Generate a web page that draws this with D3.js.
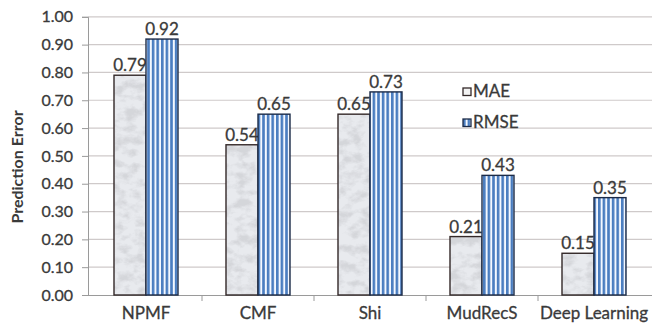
<!DOCTYPE html>
<html>
<head>
<meta charset="utf-8">
<script src="https://cdn.jsdelivr.net/npm/d3@7"></script>
<style>
  html, body { margin: 0; padding: 0; background: #fff; }
  svg { display: block; }
  text { font-family: Lato, "Open Sans", sans-serif; fill: #3a3a3a; }
</style>
</head>
<body>
<svg id="chart" width="652" height="323"></svg>
<script>
const categories = ["NPMF", "CMF", "Shi", "MudRecS", "Deep Learning"];
const seriesNames = ["MAE", "RMSE"];
const maeValues = [0.79, 0.54, 0.65, 0.21, 0.15];
const rmseValues = [0.92, 0.65, 0.73, 0.43, 0.35];
const yTicks = [0, 0.1, 0.2, 0.3, 0.4, 0.5, 0.6, 0.7, 0.8, 0.9, 1.0];

const svg = d3.select("#chart");
const defs = svg.append("defs");

// Grey marble fill for MAE bars
const marble = defs.append("filter").attr("id", "marble")
  .attr("filterUnits", "userSpaceOnUse")
  .attr("x", 0).attr("y", 0).attr("width", 652).attr("height", 323);
marble.append("feTurbulence").attr("type", "fractalNoise")
  .attr("baseFrequency", "0.08 0.11").attr("numOctaves", 4).attr("seed", 11).attr("result", "n");
marble.append("feColorMatrix").attr("in", "n").attr("type", "matrix")
  .attr("values", "0 0 0 0 0.66  0 0 0 0 0.67  0 0 0 0 0.70  -3.0 0 0 0 1.8")
  .attr("result", "c");
marble.append("feFlood").attr("flood-color", "#e8eaee").attr("result", "bg");
marble.append("feComposite").attr("in", "c").attr("in2", "bg").attr("operator", "over");

const pat = defs.append("pattern").attr("id", "marblePat")
  .attr("patternUnits", "userSpaceOnUse").attr("width", 652).attr("height", 323);
pat.append("rect").attr("width", 652).attr("height", 323).attr("fill", "#fff").attr("filter", "url(#marble)");

// Vertical stripes for RMSE bars
const stripes = defs.append("pattern").attr("id", "stripes")
  .attr("patternUnits", "userSpaceOnUse").attr("width", 4.6).attr("height", 10);
stripes.append("rect").attr("width", 4.6).attr("height", 10).attr("fill", "#f4f8ff");
stripes.append("rect").attr("x", 0).attr("width", 2.6).attr("height", 10).attr("fill", "#4a7dc0");

const fills = ["url(#marblePat)", "url(#stripes)"];

const axisX = 88, plotRight = 652;
const x = d3.scaleBand().domain(categories).range([90, 650]).paddingInner(0).paddingOuter(0);
const y = d3.scaleLinear().domain([0, 1]).range([295, 16.8]);
const barW = 32;

// Gridlines
svg.append("g").selectAll("line").data(yTicks.slice(1)).join("line")
  .attr("x1", axisX).attr("x2", plotRight)
  .attr("y1", d => y(d)).attr("y2", d => y(d))
  .attr("stroke", "#cfcaca").attr("stroke-width", 1.2);

// Y axis
const yAxis = d3.axisLeft(y).tickValues(yTicks).tickFormat(d3.format(".2f")).tickSize(6).tickPadding(9);
const gy = svg.append("g").attr("transform", `translate(${axisX},0)`).call(yAxis);
gy.select(".domain").attr("stroke", "#9a9a9a");
gy.selectAll(".tick line").attr("stroke", "#9a9a9a");
gy.selectAll(".tick text").attr("font-size", 16).attr("font-family", "Lato, sans-serif")
  .attr("fill", "#3a3a3a").attr("stroke", "#3a3a3a").attr("stroke-width", 0.3);

// X axis
const xAxis = d3.axisBottom(x).tickSize(0).tickPadding(12);
const gx = svg.append("g").attr("transform", `translate(0,${y(0)})`).call(xAxis);
gx.select(".domain").attr("stroke", "#9a9a9a").attr("d", `M${axisX},0.5H${plotRight}`);
gx.selectAll(".tick text").attr("font-size", 17).attr("font-family", "Lato, sans-serif")
  .attr("fill", "#3a3a3a").attr("stroke", "#3a3a3a").attr("stroke-width", 0.3);
// Category boundary ticks
svg.append("g").selectAll("line").data(categories.slice(1)).join("line")
  .attr("x1", d => x(d)).attr("x2", d => x(d))
  .attr("y1", y(0)).attr("y2", y(0) + 6)
  .attr("stroke", "#9a9a9a");

// Bars
const series = [maeValues, rmseValues];
series.forEach((vals, si) => {
  const g = svg.append("g");
  const rows = categories.map((c, i) => ({ c, v: vals[i] }));
  g.selectAll("rect").data(rows).join("rect")
    .attr("x", d => x(d.c) + x.bandwidth() / 2 - barW + si * barW)
    .attr("y", d => y(d.v))
    .attr("width", barW)
    .attr("height", d => y(0) - y(d.v))
    .attr("fill", fills[si])
    .attr("stroke", si === 0 ? "#332828" : "#1c2b48")
    .attr("stroke-width", 1.4);
  g.selectAll("text").data(rows).join("text")
    .attr("x", d => x(d.c) + x.bandwidth() / 2 - barW / 2 + si * barW)
    .attr("y", d => y(d.v) - 4)
    .attr("text-anchor", "middle")
    .attr("font-size", 17)
    .attr("stroke", "#3a3a3a").attr("stroke-width", 0.3)
    .text(d => d3.format(".2f")(d.v));
});

// Y axis title
svg.append("text")
  .attr("transform", "translate(23,167) rotate(-90)")
  .attr("text-anchor", "middle")
  .attr("font-size", 16).attr("font-weight", "bold")
  .text("Prediction Error");

// Legend
const legend = svg.append("g").attr("transform", "translate(463,88)");
seriesNames.forEach((name, i) => {
  const row = legend.append("g").attr("transform", `translate(0,${i * 31})`);
  row.append("rect").attr("x", 0).attr("y", 0).attr("width", 8).attr("height", 7.5)
    .attr("fill", i === 0 ? "#f2f2f2" : "url(#stripes)")
    .attr("stroke", i === 0 ? "#332828" : "#1c2b48").attr("stroke-width", 1.3);
  row.append("text").attr("x", 10).attr("y", 8.5).attr("font-size", 17)
    .attr("stroke", "#3a3a3a").attr("stroke-width", 0.3).text(name);
});
</script>
</body>
</html>
